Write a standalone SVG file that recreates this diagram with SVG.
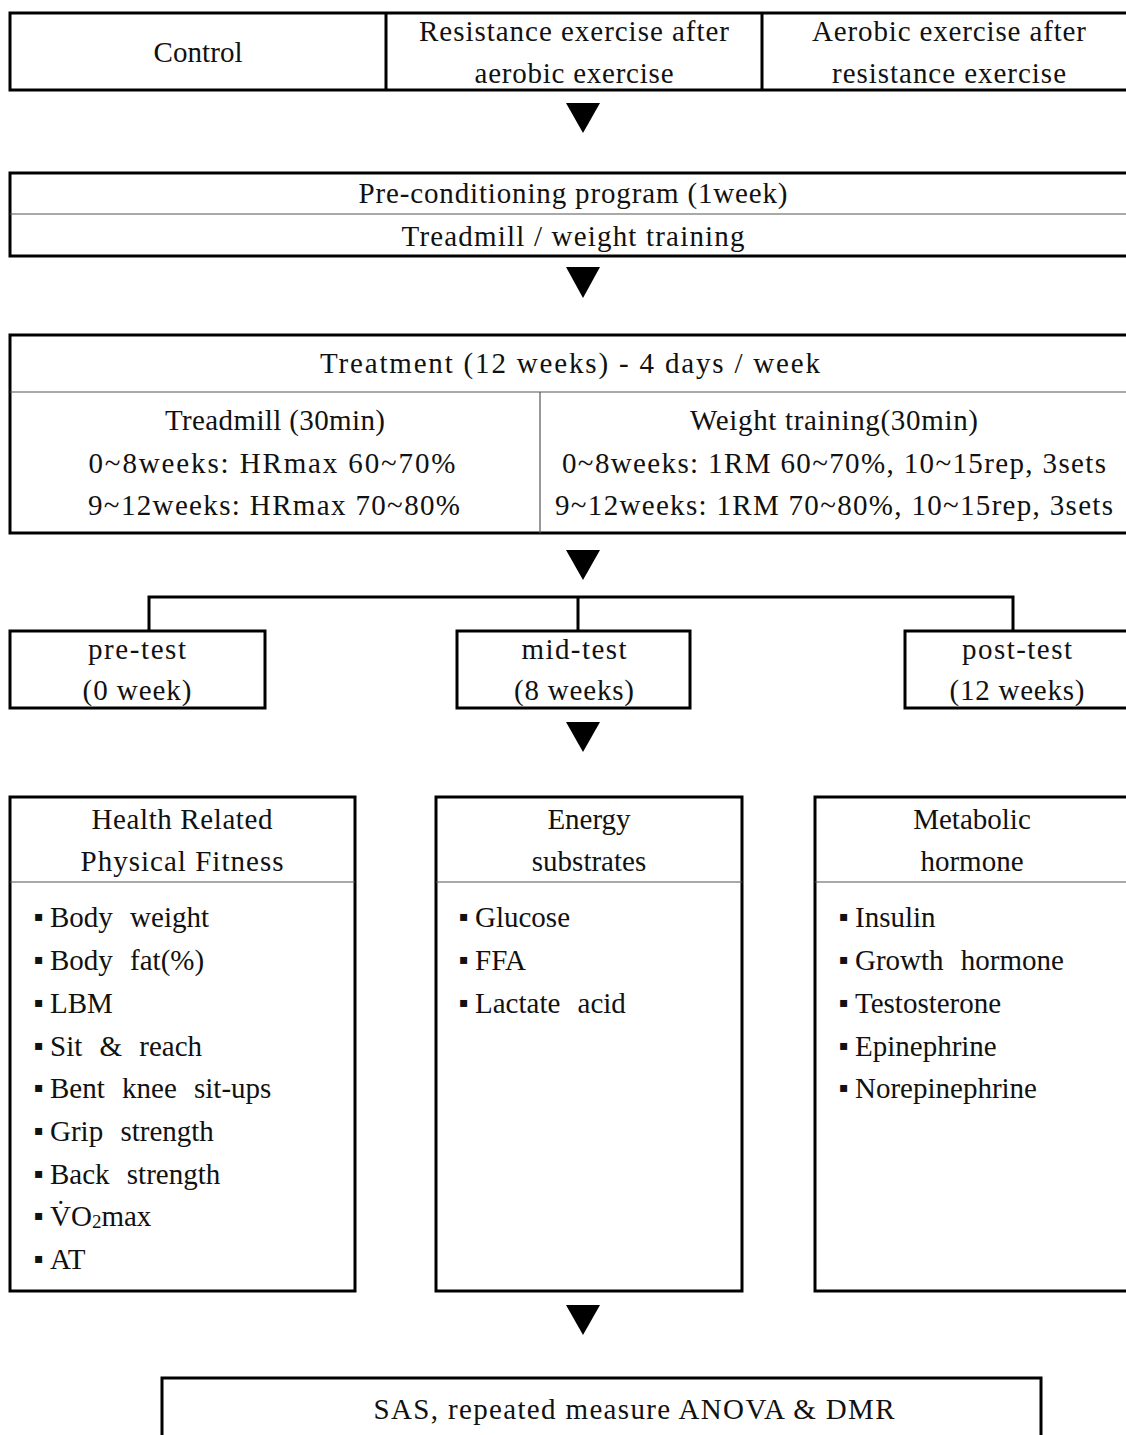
<svg xmlns="http://www.w3.org/2000/svg" width="1126" height="1435" viewBox="0 0 1126 1435">
<style>
.box{fill:#fff;stroke:#000;stroke-width:3}
.thick{stroke:#000;stroke-width:3;fill:none}
.thin{stroke:#555;stroke-width:1.2;fill:none}
text{font-family:"Liberation Serif","Times New Roman",serif;font-size:29px;fill:#111}
.c{text-anchor:middle}
.it{word-spacing:10px}
.bul{font-family:"DejaVu Sans",sans-serif;font-size:14px}
.arrow{fill:#000}
</style>
<rect width="1126" height="1435" fill="#fff"/>
<g id="groups">
<rect class="box" x="10" y="13" width="1125" height="77"/>
<line class="thick" x1="386" y1="13" x2="386" y2="90"/>
<line class="thick" x1="762" y1="13" x2="762" y2="90"/>
<text class="c" x="198" y="62" textLength="89">Control</text>
<text class="c" x="574" y="41" textLength="310">Resistance exercise after</text>
<text class="c" x="574" y="83" textLength="199">aerobic exercise</text>
<text class="c" x="949" y="41" textLength="274">Aerobic exercise after</text>
<text class="c" x="949" y="83" textLength="234">resistance exercise</text>
</g>
<g id="preconditioning">
<rect class="box" x="10" y="173" width="1125" height="83"/>
<line class="thin" x1="10" y1="214" x2="1126" y2="214"/>
<text class="c" x="573" y="203" textLength="429">Pre-conditioning program (1week)</text>
<text class="c" x="573" y="246" textLength="343">Treadmill / weight training</text>
</g>
<g id="treatment">
<rect class="box" x="10" y="335" width="1125" height="198"/>
<line class="thin" x1="10" y1="392" x2="1126" y2="392"/>
<line class="thin" x1="540" y1="392" x2="540" y2="533"/>
<text class="c" x="570" y="373" textLength="500">Treatment (12 weeks) - 4 days / week</text>
<text class="c" x="275" y="430" textLength="220">Treadmill (30min)</text>
<text class="c" x="272" y="473" textLength="367">0~8weeks: HRmax 60~70%</text>
<text class="c" x="274" y="515" textLength="372">9~12weeks: HRmax 70~80%</text>
<text class="c" x="834" y="430" textLength="288">Weight training(30min)</text>
<text class="c" x="834" y="473" textLength="544">0~8weeks: 1RM 60~70%, 10~15rep, 3sets</text>
<text class="c" x="834" y="515" textLength="558">9~12weeks: 1RM 70~80%, 10~15rep, 3sets</text>
</g>
<g id="pretest">
<rect class="box" x="10" y="631" width="255" height="77"/>
<text class="c" x="137" y="659" textLength="98">pre-test</text>
<text class="c" x="137" y="700" textLength="109">(0 week)</text>
</g>
<g id="midtest">
<rect class="box" x="457" y="631" width="233" height="77"/>
<text class="c" x="574" y="659" textLength="105">mid-test</text>
<text class="c" x="574" y="700" textLength="120">(8 weeks)</text>
</g>
<g id="posttest">
<rect class="box" x="905" y="631" width="230" height="77"/>
<text class="c" x="1017" y="659" textLength="110">post-test</text>
<text class="c" x="1017" y="700" textLength="135">(12 weeks)</text>
</g>
<g id="fitness">
<rect class="box" x="10" y="797" width="345" height="494"/>
<line class="thin" x1="10" y1="882" x2="355" y2="882"/>
<text class="c" x="182" y="829" textLength="181">Health Related</text>
<text class="c" x="182" y="871" textLength="203">Physical Fitness</text>
<text class="it" y="927"><tspan class="bul" x="34" dy="-6">▪</tspan><tspan x="50" dy="6">Body weight</tspan></text>
<text class="it" y="970"><tspan class="bul" x="34" dy="-6">▪</tspan><tspan x="50" dy="6">Body fat(%)</tspan></text>
<text class="it" y="1013"><tspan class="bul" x="34" dy="-6">▪</tspan><tspan x="50" dy="6">LBM</tspan></text>
<text class="it" y="1056"><tspan class="bul" x="34" dy="-6">▪</tspan><tspan x="50" dy="6">Sit &amp; reach</tspan></text>
<text class="it" y="1098"><tspan class="bul" x="34" dy="-6">▪</tspan><tspan x="50" dy="6">Bent knee sit-ups</tspan></text>
<text class="it" y="1141"><tspan class="bul" x="34" dy="-6">▪</tspan><tspan x="50" dy="6">Grip strength</tspan></text>
<text class="it" y="1184"><tspan class="bul" x="34" dy="-6">▪</tspan><tspan x="50" dy="6">Back strength</tspan></text>
<text class="it" y="1226"><tspan class="bul" x="34" dy="-6">▪</tspan><tspan x="50" dy="6">V̇O</tspan><tspan font-size="19" dy="2">2</tspan><tspan dy="-2">max</tspan></text>
<text class="it" y="1269"><tspan class="bul" x="34" dy="-6">▪</tspan><tspan x="50" dy="6">AT</tspan></text>
</g>
<g id="energy">
<rect class="box" x="436" y="797" width="306" height="494"/>
<line class="thin" x1="436" y1="882" x2="742" y2="882"/>
<text class="c" x="589" y="829">Energy</text>
<text class="c" x="589" y="871">substrates</text>
<text class="it" y="927"><tspan class="bul" x="459" dy="-6">▪</tspan><tspan x="475" dy="6">Glucose</tspan></text>
<text class="it" y="970"><tspan class="bul" x="459" dy="-6">▪</tspan><tspan x="475" dy="6">FFA</tspan></text>
<text class="it" y="1013"><tspan class="bul" x="459" dy="-6">▪</tspan><tspan x="475" dy="6">Lactate acid</tspan></text>
</g>
<g id="hormone">
<rect class="box" x="815" y="797" width="320" height="494"/>
<line class="thin" x1="815" y1="882" x2="1126" y2="882"/>
<text class="c" x="972" y="829">Metabolic</text>
<text class="c" x="972" y="871">hormone</text>
<text class="it" y="927"><tspan class="bul" x="839" dy="-6">▪</tspan><tspan x="855" dy="6">Insulin</tspan></text>
<text class="it" y="970"><tspan class="bul" x="839" dy="-6">▪</tspan><tspan x="855" dy="6">Growth hormone</tspan></text>
<text class="it" y="1013"><tspan class="bul" x="839" dy="-6">▪</tspan><tspan x="855" dy="6">Testosterone</tspan></text>
<text class="it" y="1056"><tspan class="bul" x="839" dy="-6">▪</tspan><tspan x="855" dy="6">Epinephrine</tspan></text>
<text class="it" y="1098"><tspan class="bul" x="839" dy="-6">▪</tspan><tspan x="855" dy="6">Norepinephrine</tspan></text>
</g>
<g id="analysis">
<rect class="box" x="162" y="1378" width="879" height="80"/>
<text class="c" x="634" y="1419" textLength="521">SAS, repeated measure ANOVA &amp; DMR</text>
</g>
<g id="connectors">
<polygon class="arrow" points="566,103 600,103 583,133"/>
<polygon class="arrow" points="566,267 600,267 583,298"/>
<polygon class="arrow" points="566,550 600,550 583,580"/>
<polyline class="thick" points="149,631 149,597 1013,597 1013,631"/>
<line class="thick" x1="578" y1="597" x2="578" y2="631"/>
<polygon class="arrow" points="566,722 600,722 583,752"/>
<polygon class="arrow" points="566,1305 600,1305 583,1335"/>
</g>
</svg>
